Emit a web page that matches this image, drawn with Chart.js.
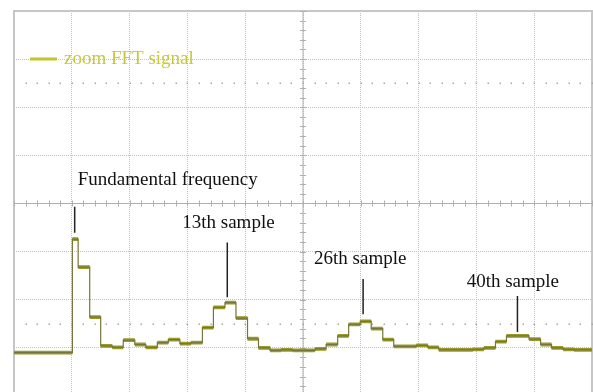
<!DOCTYPE html>
<html>
<head>
<meta charset="utf-8">
<title>zoom FFT signal</title>
<script src="https://cdn.jsdelivr.net/npm/chart.js@4.4.1/dist/chart.umd.min.js"></script>
<style>
  html, body { margin: 0; padding: 0; background: #fff; overflow: hidden; }
  canvas { display: block; }
</style>
</head>
<body>
<canvas id="scope" width="593" height="400"></canvas>
<script>
// Trace data, in screen divisions: x 0..10, y -4..4 (0 = centre line)
const stepStarts = [0, 1.01, 1.11, 1.31, 1.50, 1.70, 1.89, 2.09, 2.28, 2.48, 2.67, 2.87,
    3.06, 3.26, 3.45, 3.65, 3.84, 4.04, 4.23, 4.43, 4.62, 4.82,
    5.01, 5.21, 5.40, 5.60, 5.79, 5.99, 6.18, 6.38, 6.57, 6.77,
    6.96, 7.16, 7.35, 7.55, 7.74, 7.94, 8.13, 8.33, 8.52, 8.72,
    8.91, 9.11, 9.30, 9.50, 9.69, 9.89];
const stepLevels = [-3.10, -0.74, -1.32, -2.36, -2.96, -2.99, -2.84, -2.93, -2.99, -2.89, -2.83, -2.91,
    -2.89, -2.58, -2.16, -2.06, -2.38, -2.81, -3.00, -3.05, -3.04, -3.05,
    -3.05, -3.02, -2.93, -2.75, -2.51, -2.45, -2.60, -2.83, -2.97, -2.97,
    -2.95, -2.99, -3.04, -3.04, -3.04, -3.03, -3.00, -2.87, -2.75, -2.75,
    -2.82, -2.93, -3.00, -3.03, -3.04, -3.04];
const traceEnd = 10;

// Annotation labels: text centre (x, y) and leader line (x, y1 -> y2)
const noteTexts = ['Fundamental frequency', '13th sample', '26th sample', '40th sample'];
const noteTextX = [2.66, 3.71, 5.99, 8.63];
const noteTextY = [0.48, -0.41, -1.15, -1.63];
const noteLineX = [1.05, 3.69, 6.04, 8.71];
const noteLineTop = [-0.07, -0.81, -1.57, -1.92];
const noteLineBottom = [-0.61, -1.95, -2.30, -2.67];

const colors = {
    trace: '#dada1c',
    traceEdge: '#9a9a2a',
    traceStep: '#76763c',
    legend: '#c4c42e',
    grid: '#c2c2c2',
    frame: '#c6c6c6',
    text: '#111111'
};
const serif = '"Liberation Serif", "Times New Roman", serif';

// stepped trace (vertical transitions)
const stepPoints = stepStarts.map((x, i) => ({ x: x, y: stepLevels[i] }));
stepPoints.push({ x: traceEnd, y: stepLevels[stepLevels.length - 1] });

// flat parts only, broken between steps
const flatPoints = [];
stepStarts.forEach((x, i) => {
    const xEnd = i + 1 < stepStarts.length ? stepStarts[i + 1] : traceEnd;
    flatPoints.push({ x: x, y: stepLevels[i] });
    flatPoints.push({ x: xEnd, y: stepLevels[i] });
    flatPoints.push({ x: xEnd, y: null });
});

const graticule = {
    id: 'graticule',
    beforeDatasetsDraw(chart) {
        const { ctx, chartArea: a, scales: { x, y } } = chart;
        ctx.save();
        // frame
        ctx.strokeStyle = colors.frame;
        ctx.lineWidth = 2;
        ctx.strokeRect(a.left, a.top, a.right - a.left, a.bottom - a.top);

        // centre cross with minor ticks
        const cx = x.getPixelForValue(5);
        const cy = y.getPixelForValue(0);
        ctx.strokeStyle = '#b0b0b0';
        ctx.lineWidth = 1;
        ctx.beginPath();
        ctx.moveTo(cx, a.top); ctx.lineTo(cx, a.bottom);
        ctx.moveTo(a.left, cy); ctx.lineTo(a.right, cy);
        for (let v = 0; v <= 10.001; v += 0.2) {
            const px = Math.round(x.getPixelForValue(v)) + 0.5;
            ctx.moveTo(px, cy - 3); ctx.lineTo(px, cy + 3);
        }
        for (let v = -4; v <= 4.001; v += 0.2) {
            const py = Math.round(y.getPixelForValue(v)) + 0.5;
            ctx.moveTo(cx - 3, py); ctx.lineTo(cx + 3, py);
        }
        ctx.stroke();

        // dotted marker rows
        ctx.fillStyle = '#a8a8a8';
        [2.5, -2.5].forEach(level => {
            const py = Math.round(y.getPixelForValue(level));
            for (let v = 0.2; v < 10; v += 0.2) {
                const px = Math.round(x.getPixelForValue(v));
                ctx.fillRect(px - 0.5, py - 0.5, 1.5, 1.5);
            }
        });
        ctx.restore();
    },
    afterDraw(chart) {
        const { ctx, chartArea: a, scales: { x, y } } = chart;
        ctx.save();
        // legend
        ctx.strokeStyle = colors.legend;
        ctx.lineWidth = 3;
        ctx.beginPath();
        ctx.moveTo(a.left + 16, a.top + 48);
        ctx.lineTo(a.left + 43, a.top + 48);
        ctx.stroke();
        ctx.fillStyle = '#c8c83c';
        ctx.font = '19px ' + serif;
        ctx.textAlign = 'left';
        ctx.textBaseline = 'middle';
        ctx.fillText(chart.data.datasets[2].label, a.left + 50, a.top + 48);

        // annotations
        ctx.fillStyle = colors.text;
        ctx.textAlign = 'center';
        noteTexts.forEach((t, i) => {
            ctx.fillText(t, x.getPixelForValue(noteTextX[i]), y.getPixelForValue(noteTextY[i]));
        });
        ctx.strokeStyle = '#222';
        ctx.lineWidth = 1.5;
        ctx.beginPath();
        noteLineX.forEach((lx, i) => {
            const px = x.getPixelForValue(lx);
            ctx.moveTo(px, y.getPixelForValue(noteLineTop[i]));
            ctx.lineTo(px, y.getPixelForValue(noteLineBottom[i]));
        });
        ctx.stroke();
        ctx.restore();
    }
};

new Chart(document.getElementById('scope'), {
    type: 'line',
    data: {
        datasets: [
            {
                label: 'steps',
                data: stepPoints,
                stepped: true,
                borderColor: colors.traceStep,
                borderWidth: 1.2,
                pointRadius: 0,
                fill: false
            },
            {
                label: 'edge',
                data: flatPoints,
                borderColor: colors.traceEdge,
                borderWidth: 3.8,
                pointRadius: 0,
                spanGaps: false,
                fill: false
            },
            {
                label: 'zoom FFT signal',
                data: flatPoints,
                borderColor: colors.trace,
                borderWidth: 2.6,
                pointRadius: 0,
                spanGaps: false,
                fill: false
            }
        ]
    },
    options: {
        responsive: false,
        animation: false,
        layout: { padding: { left: 14, top: 11, right: 1, bottom: 4 } },
        plugins: { legend: { display: false }, tooltip: { enabled: false } },
        scales: {
            x: {
                type: 'linear',
                min: 0,
                max: 10,
                ticks: { display: false, stepSize: 1 },
                grid: { color: colors.grid, lineWidth: 1, drawTicks: false },
                border: { display: false, dash: [1, 1] }
            },
            y: {
                type: 'linear',
                min: -4,
                max: 4,
                ticks: { display: false, stepSize: 1 },
                grid: { color: colors.grid, lineWidth: 1, drawTicks: false },
                border: { display: false, dash: [1, 1] }
            }
        }
    },
    plugins: [graticule]
});
</script>
</body>
</html>
